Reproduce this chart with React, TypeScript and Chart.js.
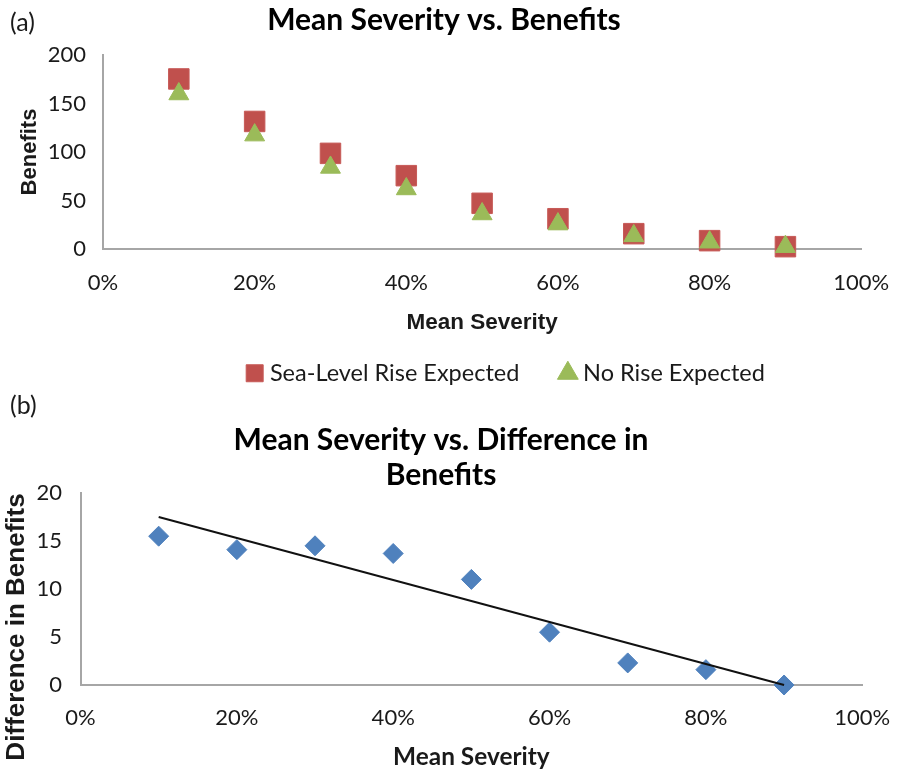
import React, { useEffect, useRef } from "react";
import { Chart, registerables } from "chart.js";

Chart.register(...registerables);

// ---------- data ----------
const severity = [0.1, 0.2, 0.3, 0.4, 0.5, 0.6, 0.7, 0.8, 0.9];
const seaLevelRiseExpected = [175.3, 131.5, 98.6, 75.6, 47.1, 31.2, 15.8, 8.6, 2.4];
const noRiseExpected = [159.8, 117.4, 84.1, 61.9, 36.1, 25.7, 13.5, 7.0, 2.4];
const differenceInBenefits = [15.5, 14.1, 14.5, 13.7, 11.0, 5.5, 2.3, 1.6, 0];
const trendSeverity = [0.1, 0.9];
const trendDifference = [17.5, 0];
const severityTickLabels = ["0%", "20%", "40%", "60%", "80%", "100%"];
const benefitsTickLabels = ["0", "50", "100", "150", "200"];
const differenceTickLabels = ["0", "5", "10", "15", "20"];

const TICK_FONT = { family: "Lato", size: 22 };
const AXIS_COLOR = "#a6a6a6";
const TEXT_COLOR = "#1a1a1a";

const shiftPlugin = {
  id: "shiftBoxes",
  afterLayout(chart: any, _args: any, opts: any) {
    if (opts.titleCenter != null && chart.titleBlock) {
      const tb = chart.titleBlock;
      const d = opts.titleCenter - (tb.left + tb.right) / 2;
      tb.left += d;
      tb.right += d;
    }
    if (opts.legendCenter != null && chart.legend) {
      const lg = chart.legend;
      const d = opts.legendCenter - (lg.left + lg.right) / 2;
      lg.left += d;
      lg.right += d;
    }
    if (opts.yTitleShift) {
      const s = chart.scales.y;
      if (s && !s.__wrapped) {
        const orig = s.drawTitle;
        const dy = opts.yTitleShift;
        s.drawTitle = function (...a: any[]) {
          const t = this.top;
          const b = this.bottom;
          this.top += dy;
          this.bottom += dy;
          orig.apply(this, a);
          this.top = t;
          this.bottom = b;
        };
        s.__wrapped = true;
      }
    }
  },
};

function TopChart() {
  const ref = useRef<HTMLCanvasElement>(null);
  useEffect(() => {
    const chart = new Chart(ref.current!, {
      type: "scatter",
      data: {
        datasets: [
          {
            label: "Sea-Level Rise Expected",
            data: severity.map((x, i) => ({ x, y: seaLevelRiseExpected[i] })),
            pointStyle: "rect",
            pointRadius: 14.5,
            backgroundColor: "#C0504D",
            borderColor: "#C75a57",
            borderWidth: 1,
            order: 2,
            clip: false,
          } as any,
          {
            label: "No Rise Expected",
            data: severity.map((x, i) => ({ x, y: noRiseExpected[i] })),
            pointStyle: "triangle",
            pointRadius: 11.5,
            backgroundColor: "#9BBB59",
            borderColor: "#9BBB59",
            borderWidth: 1,
            order: 1,
            clip: false,
          } as any,
        ],
      },
      options: {
        animation: false,
        responsive: false,
        layout: { padding: { left: 0, right: 46, top: 0, bottom: 0 } },
        scales: {
          x: {
            type: "linear",
            min: 0,
            max: 1,
            ticks: {
              stepSize: 0.2,
              padding: 20.8,
              font: TICK_FONT,
              color: TEXT_COLOR,
              callback: (_v: any, i: number) => severityTickLabels[i],
            },
            grid: { display: false, drawTicks: false },
            border: { display: true, color: AXIS_COLOR, width: 2 },
            title: {
              display: true,
              text: "Mean Severity",
              color: TEXT_COLOR,
              font: { family: "Liberation Sans", weight: "bold", size: 22.5, lineHeight: 1.2 },
              padding: { top: 0, bottom: -20 },
            },
            afterFit: (s: any) => {
              s.height = 67.5;
            },
          },
          y: {
            type: "linear",
            min: 0,
            max: 200,
            ticks: {
              stepSize: 50,
              padding: 17,
              font: TICK_FONT,
              color: TEXT_COLOR,
              callback: (_v: any, i: number) => benefitsTickLabels[i],
            },
            grid: { display: false, drawTicks: false },
            border: { display: true, color: AXIS_COLOR, width: 2 },
            title: {
              display: true,
              text: "Benefits",
              color: TEXT_COLOR,
              font: { family: "Liberation Sans", weight: "bold", size: 22, lineHeight: 1.2 },
              padding: { top: 16.8, bottom: 0 },
            },
            afterFit: (s: any) => {
              s.width = 103;
            },
          },
        },
        plugins: {
          title: {
            display: true,
            text: "Mean Severity vs. Benefits",
            color: "#000",
            font: { family: "Lato", weight: "bold", size: 30, lineHeight: 1.2 },
            padding: { top: 2.5, bottom: 16.5 },
          },
          legend: {
            display: true,
            position: "bottom",
            labels: {
              usePointStyle: true,
              boxWidth: 7,
              boxHeight: 17,
              padding: 45,
              color: TEXT_COLOR,
              font: { family: "Lato", size: 23.5 },
              sort: (a: any, b: any) => a.datasetIndex - b.datasetIndex,
            },
          },
          tooltip: { enabled: false },
          shiftBoxes: { titleCenter: 444, legendCenter: 508 },
        } as any,
      },
      plugins: [shiftPlugin],
    });
    return () => chart.destroy();
  }, []);
  return <canvas ref={ref} width={910} height={395} style={{ width: 910, height: 395, display: "block" }} />;
}

function BottomChart() {
  const ref = useRef<HTMLCanvasElement>(null);
  useEffect(() => {
    const chart = new Chart(ref.current!, {
      type: "scatter",
      data: {
        datasets: [
          {
            label: "Difference in Benefits",
            data: severity.map((x, i) => ({ x, y: differenceInBenefits[i] })),
            pointStyle: "rectRot",
            pointRadius: 10,
            backgroundColor: "#4F81BD",
            borderColor: "#4F81BD",
            borderWidth: 1,
            order: 2,
            clip: false,
          } as any,
          {
            label: "Linear trend",
            data: trendSeverity.map((x, i) => ({ x, y: trendDifference[i] })),
            showLine: true,
            pointRadius: 0,
            borderColor: "#111",
            backgroundColor: "#111",
            borderWidth: 2,
            order: 1,
            clip: false,
          } as any,
        ],
      },
      options: {
        animation: false,
        responsive: false,
        layout: { padding: { left: 0, right: 35.5, top: 0, bottom: 0 } },
        scales: {
          x: {
            type: "linear",
            min: 0,
            max: 1,
            ticks: {
              stepSize: 0.2,
              padding: 19.8,
              font: TICK_FONT,
              color: TEXT_COLOR,
              callback: (_v: any, i: number) => severityTickLabels[i],
            },
            grid: { display: false, drawTicks: false },
            border: { display: true, color: AXIS_COLOR, width: 2 },
            title: {
              display: true,
              text: "Mean Severity",
              color: TEXT_COLOR,
              font: { family: "Lato", weight: "bold", size: 24.4, lineHeight: 1.2 },
              padding: { top: 0, bottom: 1.4 },
            },
            afterFit: (s: any) => {
              s.height = 88;
            },
          },
          y: {
            type: "linear",
            min: 0,
            max: 20,
            ticks: {
              stepSize: 5,
              padding: 18.5,
              font: TICK_FONT,
              color: TEXT_COLOR,
              callback: (_v: any, i: number) => differenceTickLabels[i],
            },
            grid: { display: false, drawTicks: false },
            border: { display: true, color: AXIS_COLOR, width: 2 },
            title: {
              display: true,
              text: "Difference in Benefits",
              color: TEXT_COLOR,
              font: { family: "Liberation Sans", weight: "bold", size: 26, lineHeight: 1.2 },
              padding: { top: 1.5, bottom: 0 },
            },
            afterFit: (s: any) => {
              s.width = 80.5;
            },
          },
        },
        plugins: {
          title: {
            display: true,
            text: ["Mean Severity vs. Difference in", "Benefits"],
            color: "#000",
            font: { family: "Lato", weight: "bold", size: 30, lineHeight: 1.1667 },
            padding: { top: 27.5, bottom: 0.5 },
          },
          legend: { display: false },
          tooltip: { enabled: false },
          shiftBoxes: { titleCenter: 441, yTitleShift: 38 },
        } as any,
      },
      plugins: [shiftPlugin],
    });
    return () => chart.destroy();
  }, []);
  return <canvas ref={ref} width={910} height={378} style={{ width: 910, height: 378, display: "block" }} />;
}

const panelLabel: React.CSSProperties = {
  position: "absolute",
  left: 10,
  fontFamily: "Lato",
  fontSize: 25,
  lineHeight: "26px",
  color: "#1a1a1a",
};

export default function App() {
  return (
    <div style={{ position: "absolute", left: 0, top: 0, width: 910, height: 773, background: "#fff", overflow: "hidden" }}>
      <div style={{ position: "absolute", left: 0, top: 0 }}>
        <TopChart />
      </div>
      <div style={{ position: "absolute", left: 0, top: 395 }}>
        <BottomChart />
      </div>
      <div style={{ ...panelLabel, top: 8 }}>(a)</div>
      <div style={{ ...panelLabel, top: 391 }}>(b)</div>
    </div>
  );
}
